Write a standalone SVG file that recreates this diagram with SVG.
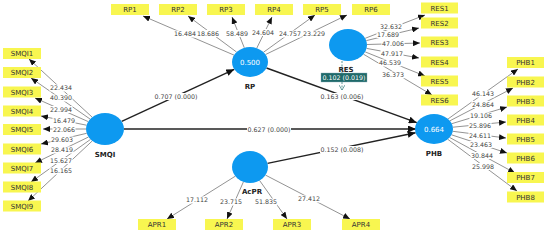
<svg xmlns="http://www.w3.org/2000/svg" width="550" height="234" viewBox="0 0 550 234">
<style>
.box{fill:#f8f650;}
.bt{font-family:"DejaVu Sans",sans-serif;font-size:7px;fill:#333;text-anchor:middle;}
.lv{fill:#0d99f0;}
.lvt{font-family:"DejaVu Sans",sans-serif;font-size:7px;fill:#fff;text-anchor:middle;}
.lvn{font-family:"DejaVu Sans",sans-serif;font-size:7px;font-weight:bold;fill:#222;text-anchor:middle;}
.ind{stroke:#777;stroke-width:0.8;fill:none;marker-end:url(#ai);}
.str{stroke:#222;stroke-width:1.4;fill:none;marker-end:url(#as);}
.num{font-family:"DejaVu Sans",sans-serif;font-size:6.3px;fill:#444;text-anchor:middle;}
.bg{fill:#fff;}
</style>
<defs>
<marker id="ai" markerUnits="userSpaceOnUse" markerWidth="7" markerHeight="6" refX="7" refY="3" orient="auto"><path d="M0,0 L7,3 L0,6 z" fill="#111"/></marker>
<marker id="as" markerUnits="userSpaceOnUse" markerWidth="8" markerHeight="7" refX="8" refY="3.5" orient="auto"><path d="M0,0 L8,3.5 L0,7 z" fill="#111"/></marker>
<marker id="ad" markerUnits="userSpaceOnUse" markerWidth="6" markerHeight="5" refX="3" refY="5" orient="0"><path d="M0,0 L3,5 L6,0" fill="none" stroke="#4a8a8a" stroke-width="0.8"/></marker>
</defs>

<g id="connectors">
<line class="ind" x1="92" y1="117" x2="29" y2="59"/>
<line class="ind" x1="90" y1="119" x2="31" y2="78"/>
<line class="ind" x1="88.2" y1="121.6" x2="35" y2="98"/>
<line class="ind" x1="86.5" y1="125.2" x2="41" y2="116"/>
<line class="ind" x1="86" y1="129" x2="43" y2="129"/>
<line class="ind" x1="86.7" y1="133.3" x2="41" y2="144"/>
<line class="ind" x1="88.5" y1="137" x2="35" y2="163"/>
<line class="ind" x1="90.5" y1="139.4" x2="31" y2="182"/>
<line class="ind" x1="92.3" y1="140.9" x2="28" y2="201"/>
<line class="ind" x1="234" y1="55.1" x2="143" y2="16"/>
<line class="ind" x1="236.5" y1="52" x2="188" y2="16"/>
<line class="ind" x1="244.3" y1="47.8" x2="232" y2="17"/>
<line class="ind" x1="256.8" y1="48.1" x2="272" y2="17"/>
<line class="ind" x1="263.6" y1="52.2" x2="315" y2="15"/>
<line class="ind" x1="265.6" y1="54.5" x2="347" y2="15"/>
<line class="ind" x1="365.2" y1="38.3" x2="425" y2="15"/>
<line class="ind" x1="366.3" y1="40.6" x2="419" y2="28"/>
<line class="ind" x1="367" y1="44.5" x2="420" y2="43"/>
<line class="ind" x1="366.6" y1="48.4" x2="419" y2="58"/>
<line class="ind" x1="365.2" y1="51.9" x2="425" y2="76"/>
<line class="ind" x1="363.5" y1="54.2" x2="432" y2="95"/>
<line class="ind" x1="448.1" y1="118.9" x2="518" y2="69"/>
<line class="ind" x1="449.9" y1="120.8" x2="513" y2="88"/>
<line class="ind" x1="451.7" y1="123.7" x2="507" y2="107"/>
<line class="ind" x1="452.9" y1="127.2" x2="506" y2="122"/>
<line class="ind" x1="452.8" y1="131.3" x2="506" y2="138"/>
<line class="ind" x1="451.5" y1="134.8" x2="507" y2="153"/>
<line class="ind" x1="449.7" y1="137.5" x2="515" y2="173"/>
<line class="ind" x1="447.8" y1="139.3" x2="517" y2="191"/>
<line class="ind" x1="235.3" y1="176.2" x2="167" y2="219"/>
<line class="ind" x1="243.4" y1="181.9" x2="227" y2="219"/>
<line class="ind" x1="259.6" y1="180.5" x2="287" y2="219"/>
<line class="ind" x1="265.5" y1="175.1" x2="350" y2="219"/>
<line class="str" x1="121.7" y1="121.3" x2="234.3" y2="69.3"/>
<line class="str" x1="124" y1="129" x2="416" y2="129"/>
<line class="str" x1="266.5" y1="68" x2="416.8" y2="122.7"/>
<line class="str" x1="267.5" y1="163.4" x2="415.6" y2="132.8"/>
<line x1="342" y1="61" x2="342" y2="90" stroke="#4a8a8a" stroke-width="0.9" stroke-dasharray="2,1.5" marker-end="url(#ad)"/>

<g id="label-bg">
<rect class="bg" x="49.5" y="84.5" width="23" height="7"/>
<rect class="bg" x="49.5" y="94.5" width="23" height="7"/>
<rect class="bg" x="49.5" y="106" width="23" height="7"/>
<rect class="bg" x="52.5" y="117" width="23" height="7"/>
<rect class="bg" x="52.5" y="126.5" width="23" height="7"/>
<rect class="bg" x="50.5" y="136.5" width="23" height="7"/>
<rect class="bg" x="50.5" y="146.5" width="23" height="7"/>
<rect class="bg" x="49.5" y="157" width="23" height="7"/>
<rect class="bg" x="49.5" y="167.5" width="23" height="7"/>
<rect class="bg" x="173.5" y="30.5" width="23" height="7"/>
<rect class="bg" x="196.5" y="30" width="23" height="7"/>
<rect class="bg" x="225.5" y="30" width="23" height="7"/>
<rect class="bg" x="251.5" y="29" width="23" height="7"/>
<rect class="bg" x="278.5" y="30.5" width="23" height="7"/>
<rect class="bg" x="302.5" y="30.5" width="23" height="7"/>
<rect class="bg" x="379.5" y="23" width="23" height="7"/>
<rect class="bg" x="376.5" y="31" width="23" height="7"/>
<rect class="bg" x="381.5" y="40" width="23" height="7"/>
<rect class="bg" x="380.5" y="50" width="23" height="7"/>
<rect class="bg" x="378.5" y="59.5" width="23" height="7"/>
<rect class="bg" x="381.5" y="71.5" width="23" height="7"/>
<rect class="bg" x="471.5" y="90.5" width="23" height="7"/>
<rect class="bg" x="471.5" y="101" width="23" height="7"/>
<rect class="bg" x="469.5" y="112.5" width="23" height="7"/>
<rect class="bg" x="468.5" y="122" width="23" height="7"/>
<rect class="bg" x="468.5" y="132" width="23" height="7"/>
<rect class="bg" x="469.5" y="141" width="23" height="7"/>
<rect class="bg" x="470.5" y="152" width="23" height="7"/>
<rect class="bg" x="471.5" y="163" width="23" height="7"/>
<rect class="bg" x="185.5" y="196.5" width="23" height="7"/>
<rect class="bg" x="219.5" y="198.5" width="23" height="7"/>
<rect class="bg" x="254.5" y="198.5" width="23" height="7"/>
<rect class="bg" x="297.5" y="195.5" width="23" height="7"/>
<rect class="bg" x="154" y="93" width="44" height="7"/>
<rect class="bg" x="247" y="126.5" width="44" height="7"/>
<rect class="bg" x="320" y="93" width="44" height="7"/>
<rect class="bg" x="320" y="146" width="44" height="7"/>
</g>

<text class="num" x="61" y="90">22.434</text>
<text class="num" x="61" y="100">40.390</text>
<text class="num" x="61" y="111.5">22.994</text>
<text class="num" x="64" y="122.5">16.479</text>
<text class="num" x="64" y="132">22.066</text>
<text class="num" x="62" y="142">29.603</text>
<text class="num" x="62" y="152">28.419</text>
<text class="num" x="61" y="162.5">15.627</text>
<text class="num" x="61" y="173">16.165</text>

<text class="num" x="185" y="36">16.484</text>
<text class="num" x="208" y="35.5">18.686</text>
<text class="num" x="237" y="35.5">58.489</text>
<text class="num" x="263" y="34.5">24.604</text>
<text class="num" x="290" y="36">24.757</text>
<text class="num" x="314" y="36">23.229</text>

<text class="num" x="391" y="28.5">32.632</text>
<text class="num" x="388" y="36.5">17.689</text>
<text class="num" x="393" y="45.5">47.006</text>
<text class="num" x="392" y="55.5">47.917</text>
<text class="num" x="390" y="65">46.539</text>
<text class="num" x="393" y="77">36.373</text>

<text class="num" x="483" y="96">46.143</text>
<text class="num" x="483" y="106.5">24.864</text>
<text class="num" x="481" y="118">19.106</text>
<text class="num" x="480" y="127.5">25.896</text>
<text class="num" x="480" y="137.5">24.611</text>
<text class="num" x="481" y="146.5">23.463</text>
<text class="num" x="482" y="157.5">30.844</text>
<text class="num" x="483" y="168.5">25.998</text>

<text class="num" x="197" y="202">17.112</text>
<text class="num" x="231" y="204">23.715</text>
<text class="num" x="266" y="204">51.835</text>
<text class="num" x="309" y="201">27.412</text>

<text class="num" x="176" y="98.5">0.707 (0.000)</text>
<text class="num" x="269" y="132">0.627 (0.000)</text>
<text class="num" x="342" y="98.5">0.163 (0.006)</text>
<text class="num" x="342" y="151.5">0.152 (0.008)</text>
</g>

<g id="SMQI">
<ellipse class="lv" cx="105" cy="129" rx="19" ry="16"/>
<text class="lvn" x="105" y="157">SMQI</text>
</g>
<g id="RP">
<ellipse class="lv" cx="250" cy="62" rx="18" ry="15"/>
<text class="lvt" x="250" y="64.5">0.500</text>
<text class="lvn" x="250" y="89">RP</text>
</g>
<g id="RES">
<ellipse class="lv" cx="348" cy="45" rx="19" ry="16"/>
<text class="lvn" x="346" y="71.5">RES</text>
<rect x="321" y="73" width="46" height="9" fill="#1f6a6a" stroke="#8ab" stroke-width="0.4"/>
<text class="lvt" x="344" y="80" style="font-size:6.3px">0.102 (0.019)</text>
</g>
<g id="PHB">
<ellipse class="lv" cx="434" cy="129" rx="19" ry="15"/>
<text class="lvt" x="434" y="131.5">0.664</text>
<text class="lvn" x="434" y="156">PHB</text>
</g>
<g id="AcPR">
<ellipse class="lv" cx="250" cy="167" rx="18" ry="16"/>
<text class="lvn" x="252" y="194">AcPR</text>
</g>

<g id="SMQI-items">
<g id="SMQI1"><rect class="box" x="3" y="48" width="38" height="11"/><text class="bt" x="22" y="56">SMQI1</text></g>
<g id="SMQI2"><rect class="box" x="3" y="67" width="38" height="11"/><text class="bt" x="22" y="75">SMQI2</text></g>
<g id="SMQI3"><rect class="box" x="3" y="86.5" width="38" height="11"/><text class="bt" x="22" y="94.5">SMQI3</text></g>
<g id="SMQI4"><rect class="box" x="3" y="105.5" width="38" height="11"/><text class="bt" x="22" y="113.5">SMQI4</text></g>
<g id="SMQI5"><rect class="box" x="3" y="124" width="38" height="11"/><text class="bt" x="22" y="132">SMQI5</text></g>
<g id="SMQI6"><rect class="box" x="3" y="143.5" width="38" height="11"/><text class="bt" x="22" y="151.5">SMQI6</text></g>
<g id="SMQI7"><rect class="box" x="3" y="162.5" width="38" height="11"/><text class="bt" x="22" y="170.5">SMQI7</text></g>
<g id="SMQI8"><rect class="box" x="3" y="181.5" width="38" height="11"/><text class="bt" x="22" y="189.5">SMQI8</text></g>
<g id="SMQI9"><rect class="box" x="3" y="200.5" width="38" height="11"/><text class="bt" x="22" y="208.5">SMQI9</text></g>
</g>
<g id="RP-items">
<g id="RP1"><rect class="box" x="111" y="4" width="38" height="11"/><text class="bt" x="130" y="12">RP1</text></g>
<g id="RP2"><rect class="box" x="159" y="4" width="38" height="11"/><text class="bt" x="178" y="12">RP2</text></g>
<g id="RP3"><rect class="box" x="207" y="4" width="38" height="11"/><text class="bt" x="226" y="12">RP3</text></g>
<g id="RP4"><rect class="box" x="255" y="4" width="38" height="11"/><text class="bt" x="274" y="12">RP4</text></g>
<g id="RP5"><rect class="box" x="303" y="4" width="38" height="11"/><text class="bt" x="322" y="12">RP5</text></g>
<g id="RP6"><rect class="box" x="352" y="4" width="38" height="11"/><text class="bt" x="371" y="12">RP6</text></g>
</g>
<g id="RES-items">
<g id="RES1"><rect class="box" x="421" y="2.5" width="37" height="11"/><text class="bt" x="439.5" y="10.5">RES1</text></g>
<g id="RES2"><rect class="box" x="421" y="17.5" width="37" height="11"/><text class="bt" x="439.5" y="25.5">RES2</text></g>
<g id="RES3"><rect class="box" x="421" y="36.5" width="37" height="11"/><text class="bt" x="439.5" y="44.5">RES3</text></g>
<g id="RES4"><rect class="box" x="421" y="56.5" width="37" height="11"/><text class="bt" x="439.5" y="64.5">RES4</text></g>
<g id="RES5"><rect class="box" x="421" y="75.5" width="37" height="11"/><text class="bt" x="439.5" y="83.5">RES5</text></g>
<g id="RES6"><rect class="box" x="421" y="94.5" width="37" height="11"/><text class="bt" x="439.5" y="102.5">RES6</text></g>
</g>
<g id="PHB-items">
<g id="PHB1"><rect class="box" x="507" y="57" width="37" height="11"/><text class="bt" x="525.5" y="65">PHB1</text></g>
<g id="PHB2"><rect class="box" x="507" y="76.5" width="37" height="11"/><text class="bt" x="525.5" y="84.5">PHB2</text></g>
<g id="PHB3"><rect class="box" x="507" y="95.5" width="37" height="11"/><text class="bt" x="525.5" y="103.5">PHB3</text></g>
<g id="PHB4"><rect class="box" x="507" y="114.5" width="37" height="11"/><text class="bt" x="525.5" y="122.5">PHB4</text></g>
<g id="PHB5"><rect class="box" x="507" y="133.5" width="37" height="11"/><text class="bt" x="525.5" y="141.5">PHB5</text></g>
<g id="PHB6"><rect class="box" x="507" y="152.5" width="37" height="11"/><text class="bt" x="525.5" y="160.5">PHB6</text></g>
<g id="PHB7"><rect class="box" x="507" y="172" width="37" height="11"/><text class="bt" x="525.5" y="180">PHB7</text></g>
<g id="PHB8"><rect class="box" x="507" y="191.5" width="37" height="11"/><text class="bt" x="525.5" y="199.5">PHB8</text></g>
</g>
<g id="APR-items">
<g id="APR1"><rect class="box" x="138" y="219" width="38" height="11"/><text class="bt" x="157" y="227">APR1</text></g>
<g id="APR2"><rect class="box" x="205" y="219" width="38" height="11"/><text class="bt" x="224" y="227">APR2</text></g>
<g id="APR3"><rect class="box" x="273" y="219" width="38" height="11"/><text class="bt" x="292" y="227">APR3</text></g>
<g id="APR4"><rect class="box" x="342" y="219" width="38" height="11"/><text class="bt" x="361" y="227">APR4</text></g>
</g>
</svg>
